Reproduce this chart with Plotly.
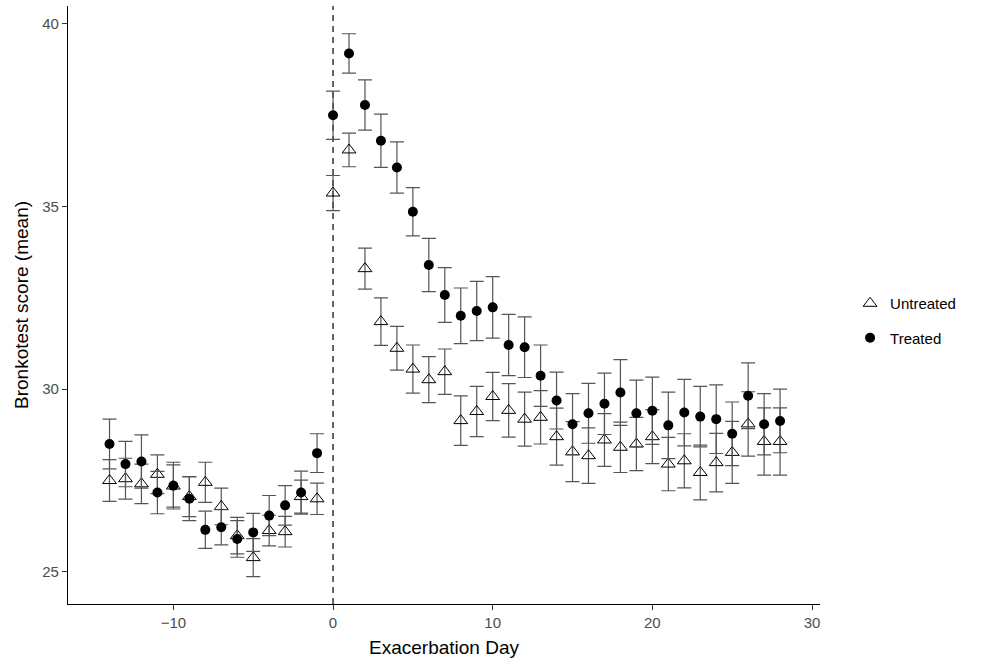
import plotly.graph_objects as go

days = list(range(-14, 29))

untreated_mean = [27.50, 27.55, 27.41, 27.67, 27.35, 27.06, 27.45, 26.79, 25.99, 25.39,
                  26.13, 26.10, 27.06, 27.00,
                  35.37, 36.55, 33.30, 31.85, 31.12, 30.55, 30.26, 30.48, 29.14, 29.39,
                  29.80, 29.42, 29.18, 29.23, 28.70, 28.29, 28.18, 28.61, 28.41, 28.50,
                  28.70, 27.95, 28.04, 27.72, 27.99, 28.27, 29.05, 28.57, 28.57]
untreated_err = [0.57, 0.56, 0.54, 0.53, 0.58, 0.55, 0.55, 0.50, 0.50, 0.52,
                 0.42, 0.42, 0.45, 0.43,
                 0.48, 0.46, 0.56, 0.65, 0.60, 0.66, 0.63, 0.62, 0.68, 0.69,
                 0.66, 0.73, 0.74, 0.73, 0.78, 0.82, 0.76, 0.72, 0.69, 0.73,
                 0.74, 0.73, 0.74, 0.75, 0.80, 0.85, 0.88, 0.92, 0.92]

treated_mean = [28.50, 27.95, 28.02, 27.17, 27.36, 27.00, 26.15, 26.22, 25.90, 26.08,
                26.54, 26.82, 27.17, 28.25,
                37.50, 39.19, 37.78, 36.80, 36.07, 34.86, 33.40, 32.58, 32.01, 32.14,
                32.24, 31.21, 31.15, 30.37, 29.69, 29.04, 29.34, 29.60, 29.91, 29.34,
                29.41, 29.01, 29.36, 29.25, 29.18, 28.78, 29.82, 29.04, 29.13]
treated_err = [0.68, 0.62, 0.73, 0.58, 0.64, 0.60, 0.51, 0.48, 0.50, 0.52,
               0.55, 0.54, 0.59, 0.53,
               0.66, 0.54, 0.69, 0.73, 0.70, 0.66, 0.73, 0.75, 0.76, 0.81,
               0.84, 0.84, 0.83, 0.84, 0.78, 0.84, 0.82, 0.84, 0.90, 0.91,
               0.92, 0.91, 0.91, 0.83, 0.94, 0.87, 0.90, 0.84, 0.87]

x_ticks = [-10, 0, 10, 20, 30]
y_ticks = [25, 30, 35, 40]
exacerbation_day = 0

FONT = "Liberation Sans, Arial, sans-serif"
ERR_COLOR = "#555555"

fig = go.Figure()

fig.add_trace(go.Scatter(
    x=days, y=untreated_mean, mode="markers", name="Untreated",
    legendgroup="u",
    marker=dict(symbol="triangle-up-open", size=12, color="black",
                line=dict(width=1, color="black")),
    error_y=dict(type="data", array=untreated_err, visible=True,
                 color=ERR_COLOR, thickness=1.2, width=7),
))

fig.add_trace(go.Scatter(
    x=days, y=treated_mean, mode="markers", name="Treated",
    legendgroup="t",
    marker=dict(symbol="circle", size=10, color="black"),
    error_y=dict(type="data", array=treated_err, visible=True,
                 color=ERR_COLOR, thickness=1.2, width=7),
))

fig.add_shape(type="line", xref="x", yref="paper",
              x0=exacerbation_day, x1=exacerbation_day, y0=0, y1=1,
              line=dict(color="black", width=1.2, dash="6px,5px"), layer="below")

fig.update_layout(
    width=986, height=659,
    margin=dict(l=68, r=166, t=6, b=55),
    paper_bgcolor="white", plot_bgcolor="white",
    font=dict(family=FONT, color="black"),
    showlegend=True,
    legend=dict(x=1.04, y=0.53, xanchor="left", yanchor="top",
                font=dict(size=15, color="black"),
                tracegroupgap=12, bgcolor="rgba(0,0,0,0)"),
    xaxis=dict(
        range=[-16.6, 30.5], tickmode="array", tickvals=x_ticks,
        showgrid=False, zeroline=False,
        showline=True, linecolor="black", linewidth=1.2,
        ticks="outside", ticklen=5, tickcolor="#333333", tickwidth=1.2,
        tickfont=dict(size=15, color="#4D4D4D", family=FONT),
        title=dict(text="Exacerbation Day", font=dict(size=19, color="black"), standoff=10),
    ),
    yaxis=dict(
        range=[24.12, 40.49], tickmode="array", tickvals=y_ticks,
        showgrid=False, zeroline=False,
        showline=True, linecolor="black", linewidth=1.2,
        ticks="outside", ticklen=5, tickcolor="#333333", tickwidth=1.2,
        tickfont=dict(size=15, color="#4D4D4D", family=FONT),
        title=dict(text="Bronkotest score (mean)", font=dict(size=19, color="black"), standoff=8),
    ),
)

fig.write_html("out.html")
